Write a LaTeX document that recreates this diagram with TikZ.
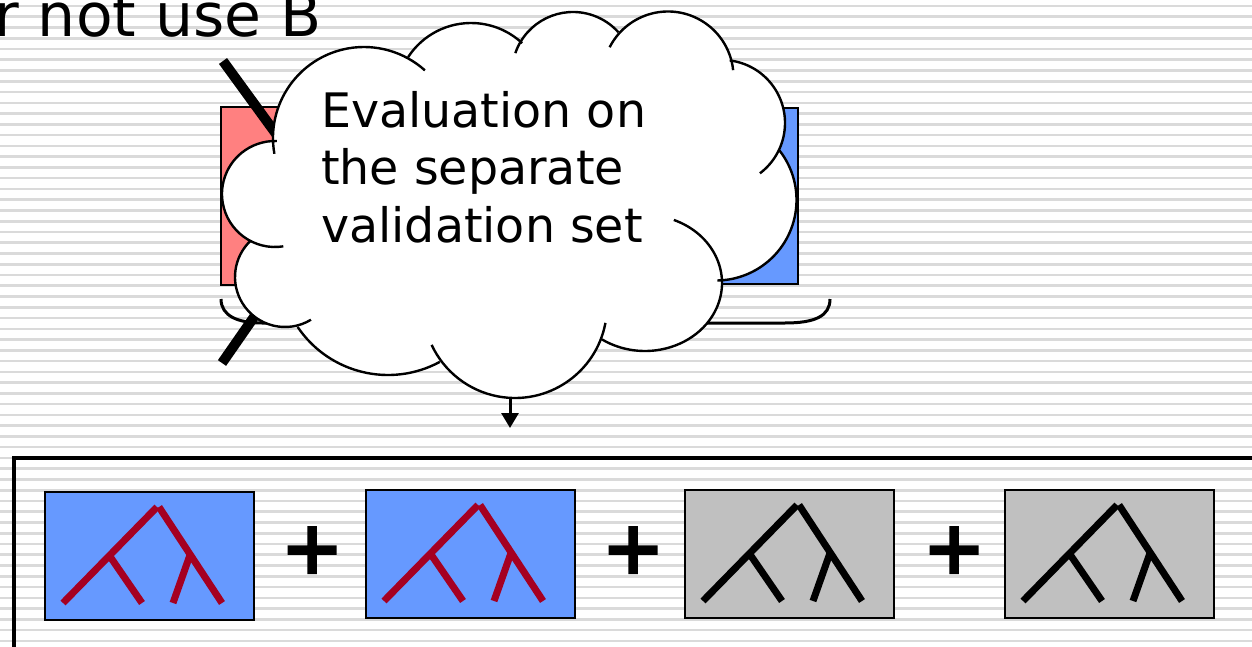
\documentclass[tikz,border=0pt]{standalone}
\usepackage{fontspec}
\setmainfont{DejaVu Sans}
\usetikzlibrary{arrows.meta}

\definecolor{stripegray}{RGB}{218,218,218}
\definecolor{setblue}{RGB}{102,153,255}
\definecolor{setred}{RGB}{255,128,128}
\definecolor{boxgray}{RGB}{192,192,192}
\definecolor{treered}{RGB}{165,0,33}

\tikzset{
  stripe/.style={stripegray, line width=2.6pt},
  frameline/.style={line width=4pt},
  treebox/.style={draw=black, line width=2.5pt, minimum width=209pt, minimum height=128pt,
    inner sep=0pt, outer sep=0pt, anchor=north west},
  branch/.style={line width=7pt},
  setbox/.style={draw=black, line width=2pt},
  barline/.style={line width=10pt},
  braceline/.style={line width=3pt},
  cloudline/.style={line width=2.4pt},
  bigtext/.style={inner sep=0pt, font=\fontsize{47.5}{57}\selectfont},
  pics/tree/.style={code={
    \draw[branch,#1] (18,111) -- (112,15);
    \draw[branch,#1] (114,15) -- (177,111);
    \draw[branch,#1] (64,63) -- (97,111);
    \draw[branch,#1] (145,63) -- (128,111);
  }},
}

% one bump of the cloud outline: centre x, centre y, radius, start angle, end angle
\newcommand\cloudarc[5]{\draw[cloudline] ([shift={(#4:#3)}]#1,#2) arc[start angle=#4, end angle=#5, radius=#3];}
% a bold plus sign centred at (#1,#2)
\newcommand\plusmark[2]{\fill[shift={(#1,#2)}] (-24.5,-4.75) rectangle (24.5,4.75) (-4.75,-24) rectangle (4.75,24);}

\begin{document}
\begin{tikzpicture}[x=1pt,y=-1pt]
\useasboundingbox (0,0) rectangle (1252,647);
\fill[white] (0,0) rectangle (1252,647);

% ruled background
\foreach \i in {0,...,59} \draw[stripe] (0,{6+10.76*\i}) -- (1252,{6+10.76*\i});

% heading fragment
\node[anchor=base east, inner sep=0pt, font=\fontsize{60}{60}\selectfont] (toptext) at (322,37) {r not use B};

% the two sets under the callout
\draw[setbox, fill=setred] (221,107) rectangle (520,285);
\draw[setbox, fill=setblue] (520,108) rectangle (798,284);
\draw[barline] (223,61) -- (290,153);
\draw[barline] (222,363) -- (270,294);
\draw[braceline] (221,299) .. controls (221,316) and (238,323) .. (262,323) -- (785,323)
  .. controls (815,323) and (830,316) .. (830,299);

% cloud callout: white body, then the bumps
\fill[white] (364,138) circle[radius=91] (471,98) circle[radius=75] (573,73) circle[radius=61]
  (668,77) circle[radius=65.5] (722,123) circle[radius=63] (716,200) circle[radius=80.5]
  (645,283) ellipse[x radius=77, y radius=68] (515,306) circle[radius=92]
  (388,266) circle[radius=109] (285,277) circle[radius=50] (275,194) circle[radius=53];
\fill[white] (364,138) -- (471,98) -- (573,73) -- (668,77) -- (722,123) -- (716,200)
  -- (645,283) -- (515,306) -- (388,266) -- (285,277) -- (275,194) -- cycle;
\cloudarc{364}{138}{91}{170}{312}
\cloudarc{471}{98}{75}{213}{313}
\cloudarc{573}{73}{61}{199}{318}
\cloudarc{668}{77}{65.5}{207}{354}
\cloudarc{722}{123}{63}{277}{413}
\cloudarc{716}{200}{80.5}{322}{449}
\draw[cloudline] ([shift={(-68:77 and 68)}]645,283) arc[start angle=-68, end angle=124, x radius=77, y radius=68];
\cloudarc{515}{306}{92}{10.6}{155}
\cloudarc{388}{266}{109}{61.6}{146}
\cloudarc{285}{277}{50}{58.7}{226.5}
\cloudarc{275}{194}{53}{81}{272}

\node[bigtext, anchor=base west] (ct1) at (321,128) {Evaluation on};
\node[bigtext, anchor=base west] (ct2) at (321,185) {the separate};
\node[bigtext, anchor=base west] (ct3) at (321,242) {validation set};

% arrow from the callout down to the ensemble
\coordinate (cloudbase) at (510,397);
\coordinate (arrowtip) at (510,428);
\draw[line width=3pt, -{Triangle[width=17pt,length=15pt]}] (cloudbase) -- (arrowtip);

% ensemble frame
\draw[frameline] (14,665) -- (14,458) -- (1265,458);

% the four trees
\node[treebox, fill=setblue] (b1) at (45,492) {};
\node[treebox, fill=setblue] (b2) at (366,490) {};
\node[treebox, fill=boxgray] (b3) at (685,490) {};
\node[treebox, fill=boxgray] (b4) at (1005,490) {};
\pic at (b1.north west) {tree=treered};
\pic at (b2.north west) {tree=treered};
\pic at (b3.north west) {tree=black};
\pic at (b4.north west) {tree=black};

\plusmark{312}{550}
\plusmark{633}{550}
\plusmark{954}{550}
\end{tikzpicture}
\end{document}
